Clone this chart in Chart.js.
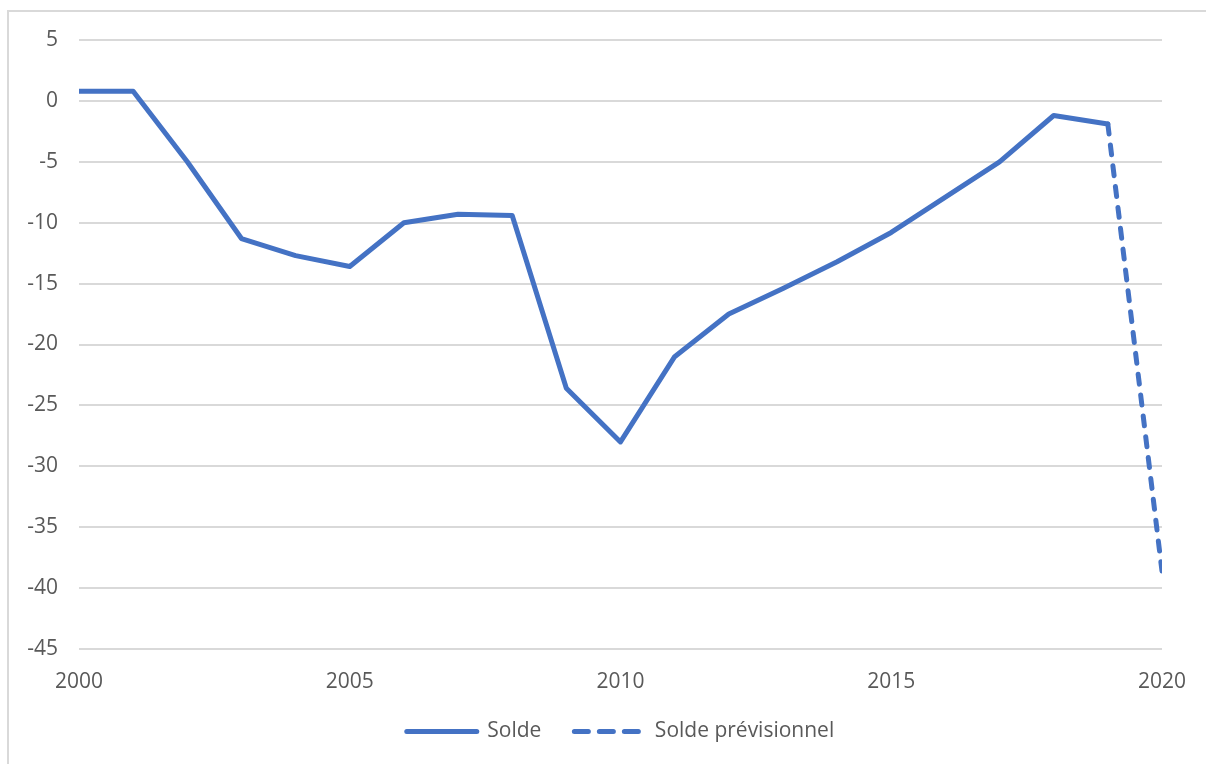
<!DOCTYPE html>
<html>
<head>
<meta charset="utf-8">
<script src="https://cdn.jsdelivr.net/npm/chart.js@4"></script>
<style>
    body { margin: 0; background: #fff; }
    #wrap { position: relative; width: 1206px; height: 764px; overflow: hidden; }
    #frame { position: absolute; left: 7px; top: 10px; width: 1300px; height: 900px; border-left: 2px solid #d9d9d9; border-top: 2px solid #d9d9d9; }
    canvas { position: absolute; left: 0; top: 0; }
</style>
</head>
<body>
<div id="wrap">
    <div id="frame"></div>
    <canvas id="solde-chart" width="1206" height="764"></canvas>
</div>
<script>
    // années
    var years = [2000, 2001, 2002, 2003, 2004, 2005, 2006, 2007, 2008, 2009, 2010,
        2011, 2012, 2013, 2014, 2015, 2016, 2017, 2018, 2019, 2020];
    // solde constaté (2000-2019)
    var solde = [0.8, 0.8, -5.0, -11.3, -12.7, -13.6, -10.0, -9.3, -9.4, -23.6, -28.0,
        -21.0, -17.5, -15.4, -13.2, -10.8, -7.9, -5.0, -1.2, -1.9, null];
    // solde prévisionnel (2019-2020)
    var soldePrev = [null, null, null, null, null, null, null, null, null, null, null,
        null, null, null, null, null, null, null, null, -1.9, -38.6];
    var yTicks = [5, 0, -5, -10, -15, -20, -25, -30, -35, -40, -45];

    var blue = '#4472C4';
    var grey = '#595959';
    var font = {family: "'Open Sans', sans-serif", size: 21};

    function points(values) {
        return years.map(function (y, i) {
            return {x: y, y: values[i]};
        });
    }

    var config = {
        type: 'line',
        data: {
            datasets: [
                {
                    label: 'Solde',
                    data: points(solde),
                    borderColor: blue,
                    backgroundColor: blue,
                    borderWidth: 5,
                    borderCapStyle: 'round',
                    borderJoinStyle: 'round',
                    pointRadius: 0,
                    spanGaps: false
                },
                {
                    label: 'Solde prévisionnel',
                    data: points(soldePrev),
                    borderColor: blue,
                    backgroundColor: blue,
                    borderWidth: 5,
                    borderDash: [10, 11],
                    borderCapStyle: 'round',
                    pointRadius: 0,
                    spanGaps: false
                }
            ]
        },
        options: {
            responsive: false,
            animation: false,
            layout: {
                padding: {left: 0, right: 43, top: 40, bottom: 12}
            },
            plugins: {
                tooltip: {enabled: false},
                legend: {
                    position: 'bottom',
                    fullSize: false,
                    labels: {
                        usePointStyle: true,
                        pointStyleWidth: 70,
                        padding: 33,
                        color: grey,
                        font: font,
                        // legend lines: solid or dashed like their dataset, longer dashes
                        generateLabels: function (chart) {
                            var items = Chart.defaults.plugins.legend.labels.generateLabels(chart);
                            items.forEach(function (item) {
                                var ds = chart.data.datasets[item.datasetIndex];
                                item.pointStyle = 'line';
                                item.lineWidth = ds.borderWidth;
                                item.lineDash = ds.borderDash ? [14, 11] : [];
                                item.lineCap = 'round';
                                item.strokeStyle = ds.borderColor;
                            });
                            return items;
                        }
                    }
                }
            },
            scales: {
                x: {
                    type: 'linear',
                    min: 2000,
                    max: 2020,
                    grid: {display: false, drawTicks: false},
                    border: {display: false},
                    ticks: {
                        stepSize: 5,
                        padding: 20,
                        color: grey,
                        font: font,
                        maxRotation: 0,
                        callback: function (v) { return String(v); }
                    },
                    afterFit: function (scale) { scale.height = 39; }
                },
                y: {
                    min: -45,
                    max: 5,
                    grid: {color: '#d9d9d9', lineWidth: 2, drawTicks: false},
                    border: {display: false},
                    afterBuildTicks: function (scale) {
                        scale.ticks = yTicks.map(function (v) { return {value: v}; });
                    },
                    ticks: {
                        padding: 21,
                        color: grey,
                        font: font
                    },
                    afterFit: function (scale) { scale.width = 79; }
                }
            }
        }
    };

    var ctx = document.getElementById('solde-chart').getContext('2d');
    window.soldeChart = new Chart(ctx, config);
</script>
</body>
</html>
